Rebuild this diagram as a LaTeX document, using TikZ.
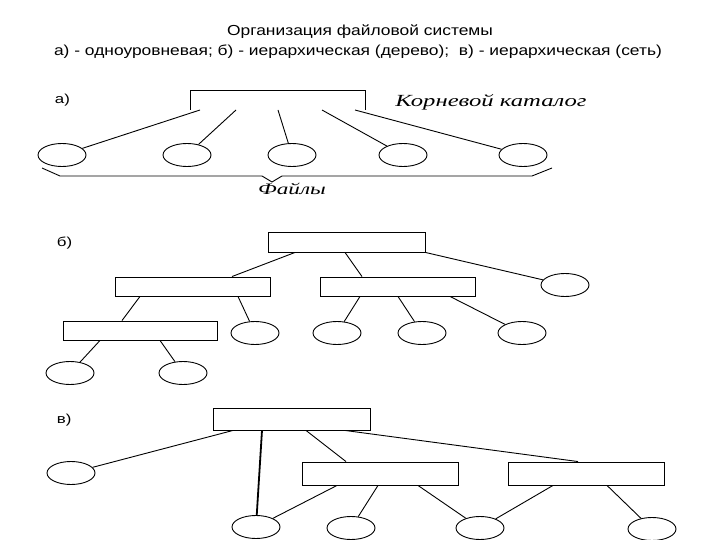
\documentclass[tikz,border=0pt]{standalone}
\usepackage{fontspec}
\setmainfont{Liberation Sans}
\newfontfamily\itf{Liberation Serif}
\usetikzlibrary{shapes.geometric}
\begin{document}
\begin{tikzpicture}[x=1pt,y=-1pt,line width=0.9pt,
  fe/.style={draw,ellipse,minimum width=48pt,minimum height=23pt,inner sep=0pt},
  dr/.style={draw,rectangle,inner sep=0pt}]
\useasboundingbox (0,0) rectangle (720,540);
\node[font=\fontsize{14.5}{17}\selectfont,xscale=1.2,transform shape] (t1) at (360,32) {Организация файловой системы};
\node[font=\fontsize{14.5}{17}\selectfont,xscale=1.2,transform shape] (t2) at (358,52) {а) - одноуровневая; б) - иерархическая (дерево);\ \ в) - иерархическая (сеть)};
% a
\node[font=\fontsize{13}{15}\selectfont,anchor=west,xscale=1.3,transform shape] (la) at (50,100) {а)};
\coordinate (ra) at (190,110); \coordinate (rb) at (365,110);
\draw (ra) -- (190,90) -- (365,90) -- (rb);
\node[font=\itf\itshape\fontsize{17}{19}\selectfont,anchor=west,xscale=1.45,transform shape] (lroot) at (390,102) {Корневой каталог};
\node[fe] (a1) at (62,155) {};
\node[fe] (a2) at (187,155) {};
\node[fe] (a3) at (292,155) {};
\node[fe] (a4) at (403,155) {};
\node[fe] (a5) at (523,155) {};
\draw (200,110) -- (a1); \draw (236,110) -- (a2); \draw (278,110) -- (a3);
\draw (322,110) -- (a4); \draw (355,110) -- (a5);
\coordinate (bl) at (42,168); \coordinate (br) at (552,168);
\draw (bl) -- (60,176) -- (262,176) -- (272,182) -- (282,176) -- (532,176) -- (br);
\node[font=\itf\itshape\fontsize{16}{18}\selectfont,xscale=1.45,transform shape] (files) at (292,189) {Файлы};
% b
\node[font=\fontsize{13}{15}\selectfont,anchor=west,xscale=1.3,transform shape] (lb) at (52,243) {б)};
\node[dr,minimum width=157pt,minimum height=20pt] (b0) at (346.5,242) {};
\node[dr,minimum width=155pt,minimum height=19pt] (b1) at (192.5,286.5) {};
\node[dr,minimum width=155pt,minimum height=19pt] (b2) at (397.5,286.5) {};
\node[fe] (be) at (565,285) {};
\node[dr,minimum width=154pt,minimum height=19pt] (b3) at (140,330.5) {};
\node[fe] (c1) at (255,333) {};
\node[fe] (c2) at (337,333) {};
\node[fe] (c3) at (422,333) {};
\node[fe] (c4) at (522,333) {};
\node[fe] (d1) at (70,373) {};
\node[fe] (d2) at (183,373) {};
\draw (b0.south -| 295,0) -- (b1.north -| 232,0);
\draw (b0.south -| 345,0) -- (b2.north -| 362,0);
\draw (b0.south east) -- (be);
\draw (b1.south -| 140,0) -- (b3.north -| 122,0);
\draw (b1.south -| 238,0) -- (c1);
\draw (b2.south -| 360,0) -- (c2);
\draw (b2.south -| 398,0) -- (c3);
\draw (b2.south -| 450,0) -- (c4);
\draw (b3.south -| 100,0) -- (d1);
\draw (b3.south -| 160,0) -- (d2);
% c
\node[font=\fontsize{13}{15}\selectfont,anchor=west,xscale=1.3,transform shape] (lc) at (52,420) {в)};
\node[dr,minimum width=157pt,minimum height=22pt] (v0) at (291.5,419) {};
\node[dr,minimum width=156pt,minimum height=23pt] (v1) at (380,473.5) {};
\node[dr,minimum width=156pt,minimum height=23pt] (v2) at (586,473.5) {};
\node[fe] (w0) at (71,473) {};
\node[fe] (w1) at (256,527) {};
\node[fe] (w2) at (351,528) {};
\node[fe] (w3) at (480,528) {};
\node[fe] (w4) at (652,529) {};
\draw (v0.south -| 233,0) -- (w0);
\draw[line width=1.8pt] (v0.south -| 262,0) -- (w1);
\draw (v0.south -| 306,0) -- (v1.north -| 346,0);
\draw (v0.south -| 345,0) -- (v2.north -| 578,0);
\draw (v1.south -| 337,0) -- (w1);
\draw (v1.south -| 378,0) -- (w2);
\draw (v1.south -| 418,0) -- (w3);
\draw (v2.south -| 553,0) -- (w3);
\draw (v2.south -| 607,0) -- (w4);
\end{tikzpicture}
\end{document}
